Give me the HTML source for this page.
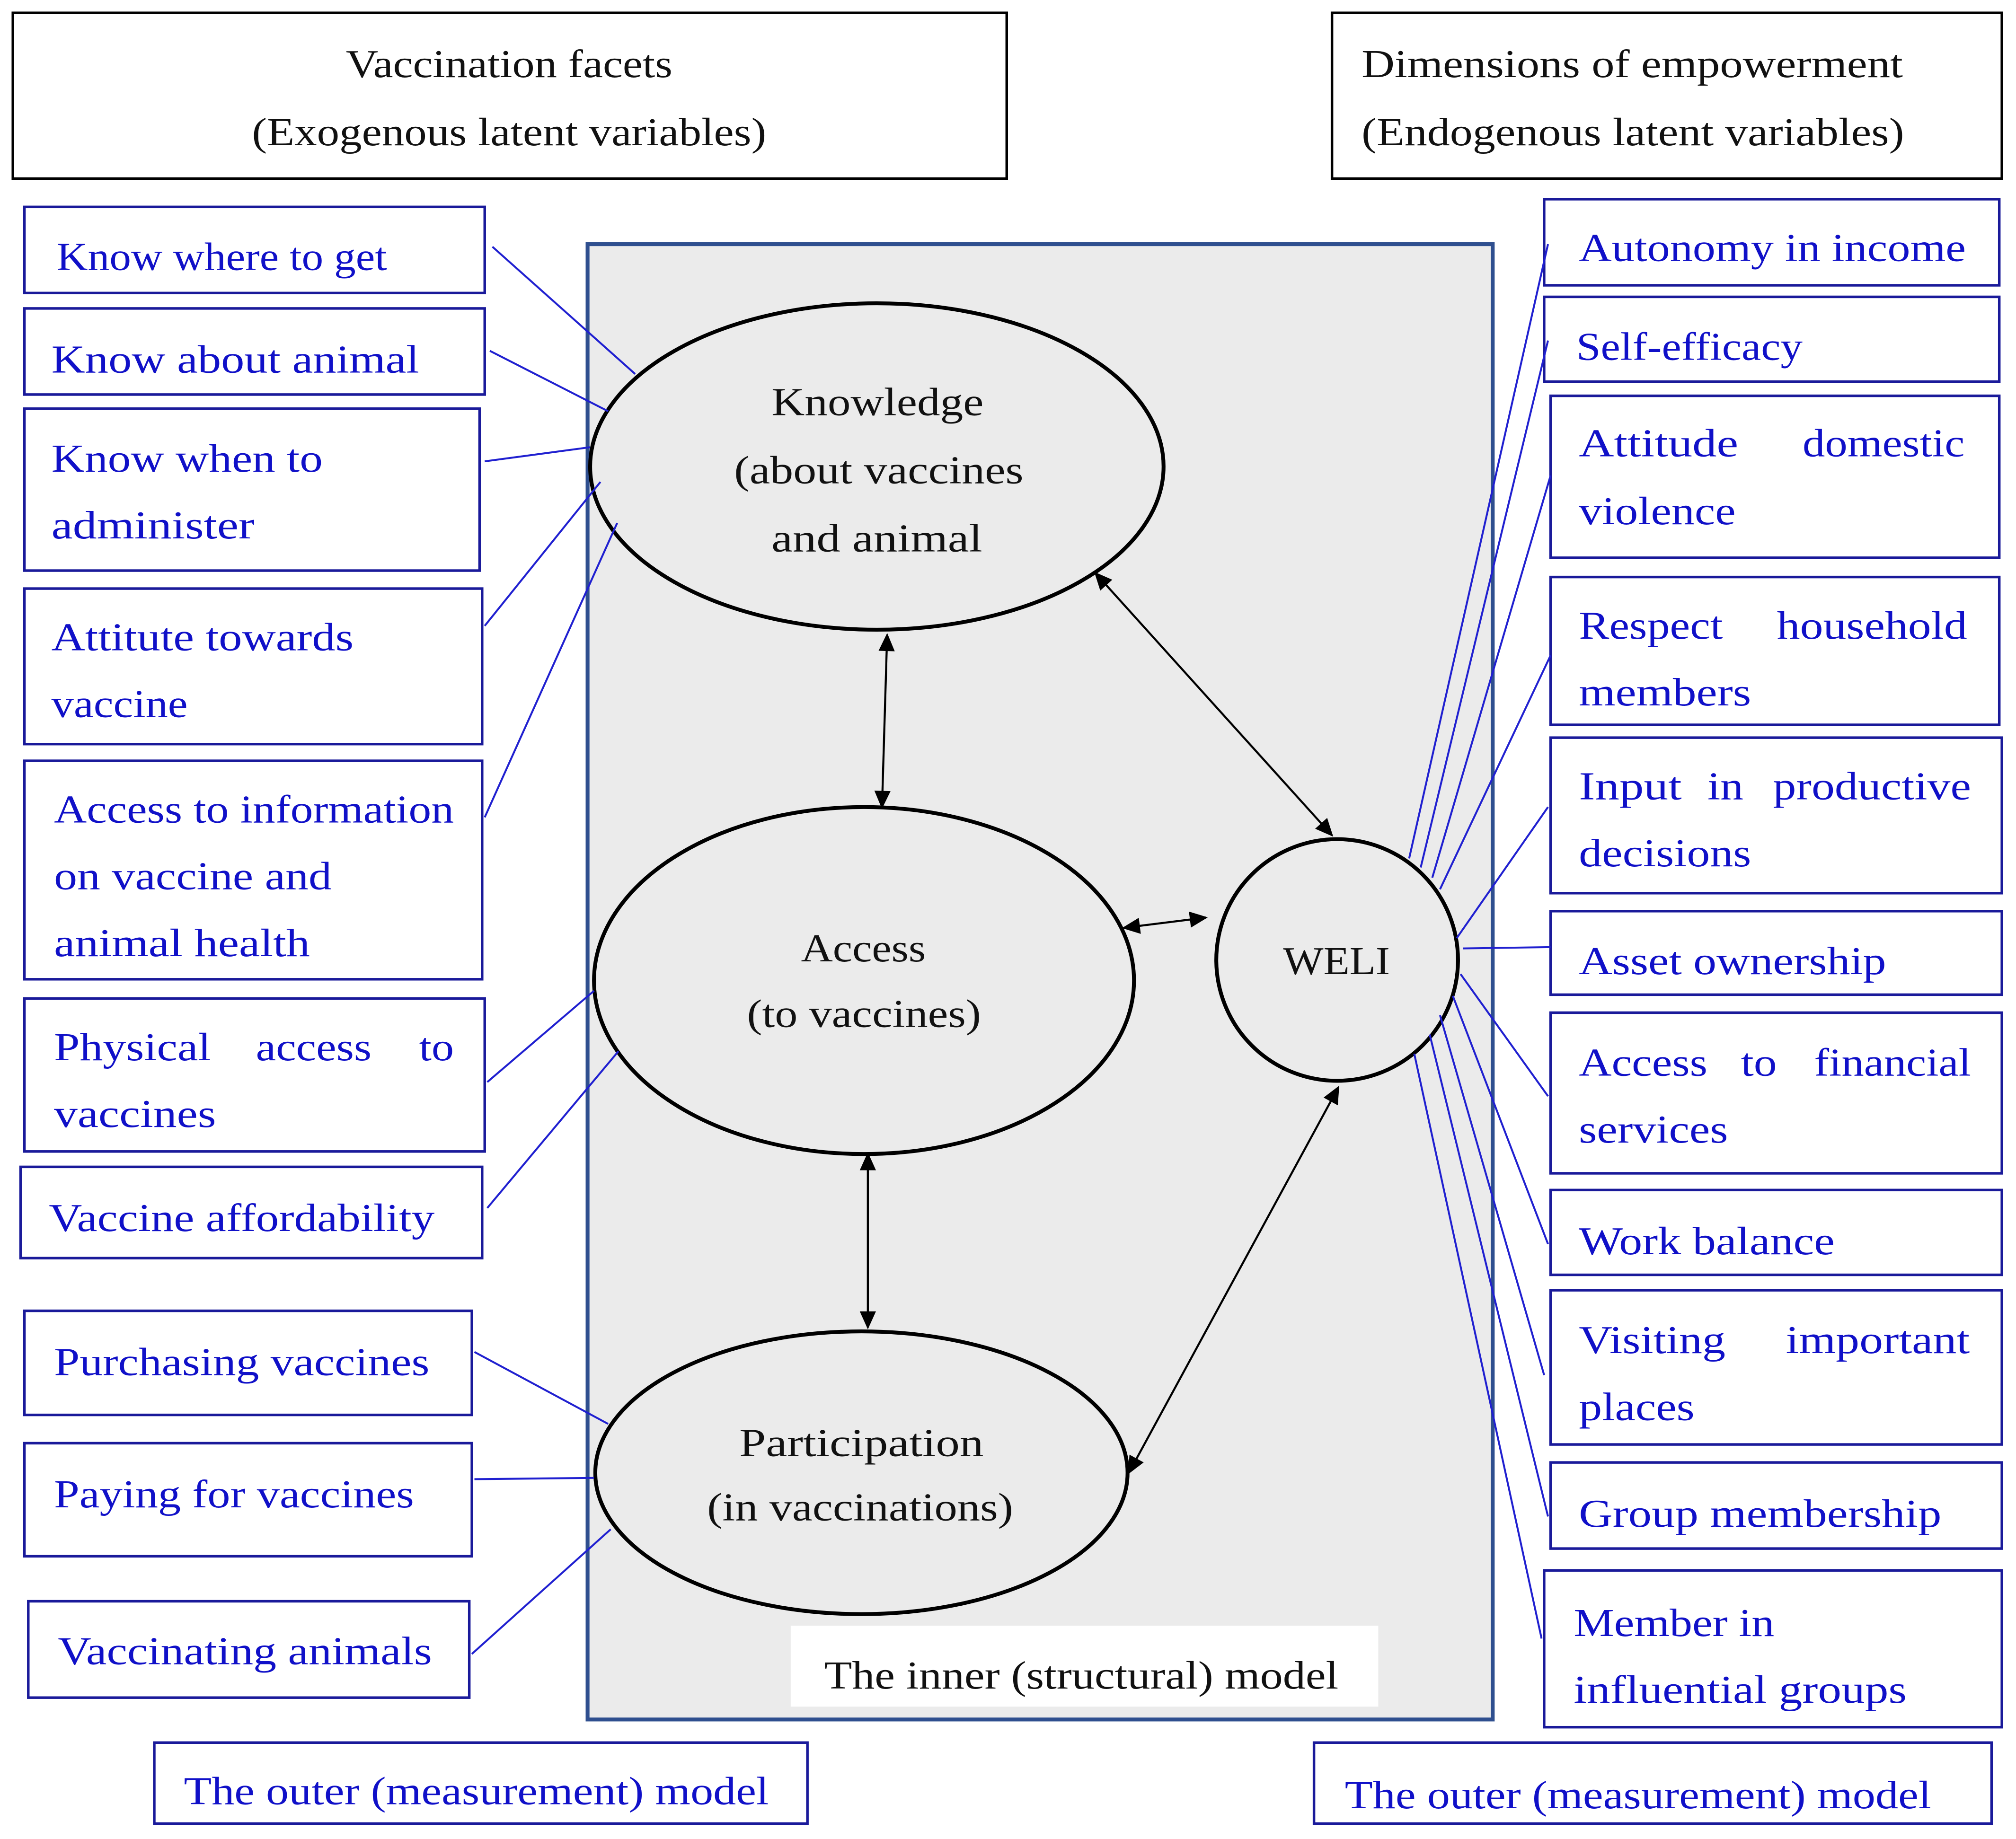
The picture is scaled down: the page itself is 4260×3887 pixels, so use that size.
<!DOCTYPE html>
<html><head><meta charset="utf-8"><style>
html,body{margin:0;padding:0;background:#fff;}
svg{display:block;}
text{font-family:"Liberation Serif",serif;font-size:31px;}
.b{fill:#1010c8;}
.k{fill:#111;}
.bx{fill:#fff;stroke:#1a1a9a;stroke-width:2;}
.bl{stroke:#2020d0;stroke-width:1.5;fill:none;}
.ar{stroke:#000;stroke-width:1.6;fill:none;marker-start:url(#h);marker-end:url(#h);}
</style></head><body>
<svg width="4260" height="3887" viewBox="0 0 1568 1431" preserveAspectRatio="none" xmlns="http://www.w3.org/2000/svg">
<defs><marker id="h" viewBox="0 0 10 10" refX="9" refY="5" markerWidth="16" markerHeight="14" orient="auto-start-reverse" markerUnits="userSpaceOnUse"><path d="M0,0.5 L10,5 L0,9.5 z" fill="#000"/></marker></defs>
<rect x="10" y="10" width="773" height="129" fill="#fff" stroke="#000" stroke-width="2"/>
<text class="k" x="269" y="60" textLength="254" lengthAdjust="spacingAndGlyphs">Vaccination facets</text>
<text class="k" x="196" y="113" textLength="400" lengthAdjust="spacingAndGlyphs">(Exogenous latent variables)</text>
<rect x="1036" y="10" width="521" height="129" fill="#fff" stroke="#000" stroke-width="2"/>
<text class="k" x="1059" y="60" textLength="421" lengthAdjust="spacingAndGlyphs">Dimensions of empowerment</text>
<text class="k" x="1059" y="113" textLength="422" lengthAdjust="spacingAndGlyphs">(Endogenous latent variables)</text>

<rect x="457" y="190" width="704" height="1148" fill="#ebebeb" stroke="#2f4f8f" stroke-width="3"/>
<rect x="615" y="1265" width="457" height="63" fill="#fff"/>
<text class="k" x="641" y="1314" textLength="400" lengthAdjust="spacingAndGlyphs">The inner (structural) model</text>

<ellipse cx="682" cy="363" rx="223" ry="127" fill="#ebebeb" stroke="#000" stroke-width="3"/>
<ellipse cx="672" cy="763" rx="210" ry="135" fill="#ebebeb" stroke="#000" stroke-width="3"/>
<ellipse cx="670" cy="1146" rx="207" ry="110" fill="#ebebeb" stroke="#000" stroke-width="3"/>
<circle cx="1040" cy="747" r="94" fill="#ebebeb" stroke="#000" stroke-width="3"/>
<g class="k">
<text x="600" y="323" textLength="165" lengthAdjust="spacingAndGlyphs">Knowledge</text>
<text x="571" y="376" textLength="225" lengthAdjust="spacingAndGlyphs">(about vaccines</text>
<text x="600" y="429" textLength="164" lengthAdjust="spacingAndGlyphs">and animal</text>
<text x="623" y="748" textLength="97" lengthAdjust="spacingAndGlyphs">Access</text>
<text x="581" y="799" textLength="182" lengthAdjust="spacingAndGlyphs">(to vaccines)</text>
<text x="575" y="1133" textLength="190" lengthAdjust="spacingAndGlyphs">Participation</text>
<text x="550" y="1183" textLength="238" lengthAdjust="spacingAndGlyphs">(in vaccinations)</text>
<text x="998" y="758" textLength="83" lengthAdjust="spacingAndGlyphs">WELI</text>
</g>

<line class="ar" x1="690" y1="494" x2="686" y2="628"/>
<line class="ar" x1="852" y1="446" x2="1036" y2="650"/>
<line class="ar" x1="874" y1="722" x2="938" y2="714"/>
<line class="ar" x1="675" y1="898" x2="675" y2="1033"/>
<line class="ar" x1="1041" y1="846" x2="878" y2="1146"/>

<g>
<rect class="bx" x="19" y="161" width="358" height="67"/>
<rect class="bx" x="19" y="240" width="358" height="67"/>
<rect class="bx" x="19" y="318" width="354" height="126"/>
<rect class="bx" x="19" y="458" width="356" height="121"/>
<rect class="bx" x="19" y="592" width="356" height="170"/>
<rect class="bx" x="19" y="777" width="358" height="119"/>
<rect class="bx" x="16" y="908" width="359" height="71"/>
<rect class="bx" x="19" y="1020" width="348" height="81"/>
<rect class="bx" x="19" y="1123" width="348" height="88"/>
<rect class="bx" x="22" y="1246" width="343" height="75"/>
<rect class="bx" x="120" y="1356" width="508" height="63"/>
<rect class="bx" x="1022" y="1356" width="527" height="63"/>
<rect class="bx" x="1201" y="155" width="354" height="67"/>
<rect class="bx" x="1201" y="231" width="354" height="66"/>
<rect class="bx" x="1206" y="308" width="349" height="126"/>
<rect class="bx" x="1206" y="449" width="349" height="115"/>
<rect class="bx" x="1206" y="574" width="351" height="121"/>
<rect class="bx" x="1206" y="709" width="351" height="65"/>
<rect class="bx" x="1206" y="788" width="351" height="125"/>
<rect class="bx" x="1206" y="926" width="351" height="66"/>
<rect class="bx" x="1206" y="1004" width="351" height="120"/>
<rect class="bx" x="1206" y="1138" width="351" height="67"/>
<rect class="bx" x="1201" y="1222" width="356" height="122"/>
</g>
<g class="b">
<text x="44" y="210" textLength="257" lengthAdjust="spacingAndGlyphs">Know where to get</text>
<text x="40" y="290" textLength="286" lengthAdjust="spacingAndGlyphs">Know about animal</text>
<text x="40" y="367" textLength="211" lengthAdjust="spacingAndGlyphs">Know when to</text>
<text x="40" y="419" textLength="158" lengthAdjust="spacingAndGlyphs">administer</text>
<text x="40" y="506" textLength="235" lengthAdjust="spacingAndGlyphs">Attitute towards</text>
<text x="40" y="558" textLength="106" lengthAdjust="spacingAndGlyphs">vaccine</text>
<text x="42" y="640" textLength="311" lengthAdjust="spacingAndGlyphs">Access to information</text>
<text x="42" y="692" textLength="216" lengthAdjust="spacingAndGlyphs">on vaccine and</text>
<text x="42" y="744" textLength="199" lengthAdjust="spacingAndGlyphs">animal health</text>
<text x="42" y="825" textLength="122" lengthAdjust="spacingAndGlyphs">Physical</text>
<text x="199" y="825" textLength="90" lengthAdjust="spacingAndGlyphs">access</text>
<text x="326" y="825" textLength="27" lengthAdjust="spacingAndGlyphs">to</text>
<text x="42" y="877" textLength="126" lengthAdjust="spacingAndGlyphs">vaccines</text>
<text x="38" y="958" textLength="300" lengthAdjust="spacingAndGlyphs">Vaccine affordability</text>
<text x="42" y="1070" textLength="292" lengthAdjust="spacingAndGlyphs">Purchasing vaccines</text>
<text x="42" y="1173" textLength="280" lengthAdjust="spacingAndGlyphs">Paying for vaccines</text>
<text x="45" y="1295" textLength="291" lengthAdjust="spacingAndGlyphs">Vaccinating animals</text>
<text x="143" y="1404" textLength="455" lengthAdjust="spacingAndGlyphs">The outer (measurement) model</text>
<text x="1046" y="1407" textLength="456" lengthAdjust="spacingAndGlyphs">The outer (measurement) model</text>
<text x="1228" y="203" textLength="301" lengthAdjust="spacingAndGlyphs">Autonomy in income</text>
<text x="1226" y="280" textLength="176" lengthAdjust="spacingAndGlyphs">Self-efficacy</text>
<text x="1228" y="355" textLength="124" lengthAdjust="spacingAndGlyphs">Attitude</text>
<text x="1402" y="355" textLength="126" lengthAdjust="spacingAndGlyphs">domestic</text>
<text x="1228" y="408" textLength="122" lengthAdjust="spacingAndGlyphs">violence</text>
<text x="1228" y="497" textLength="112" lengthAdjust="spacingAndGlyphs">Respect</text>
<text x="1382" y="497" textLength="148" lengthAdjust="spacingAndGlyphs">household</text>
<text x="1228" y="549" textLength="134" lengthAdjust="spacingAndGlyphs">members</text>
<text x="1228" y="622" textLength="80" lengthAdjust="spacingAndGlyphs">Input</text>
<text x="1328" y="622" textLength="28" lengthAdjust="spacingAndGlyphs">in</text>
<text x="1379" y="622" textLength="154" lengthAdjust="spacingAndGlyphs">productive</text>
<text x="1228" y="674" textLength="134" lengthAdjust="spacingAndGlyphs">decisions</text>
<text x="1228" y="758" textLength="239" lengthAdjust="spacingAndGlyphs">Asset ownership</text>
<text x="1228" y="837" textLength="100" lengthAdjust="spacingAndGlyphs">Access</text>
<text x="1354" y="837" textLength="28" lengthAdjust="spacingAndGlyphs">to</text>
<text x="1411" y="837" textLength="122" lengthAdjust="spacingAndGlyphs">financial</text>
<text x="1228" y="889" textLength="116" lengthAdjust="spacingAndGlyphs">services</text>
<text x="1228" y="976" textLength="199" lengthAdjust="spacingAndGlyphs">Work balance</text>
<text x="1228" y="1053" textLength="114" lengthAdjust="spacingAndGlyphs">Visiting</text>
<text x="1389" y="1053" textLength="143" lengthAdjust="spacingAndGlyphs">important</text>
<text x="1228" y="1105" textLength="90" lengthAdjust="spacingAndGlyphs">places</text>
<text x="1228" y="1188" textLength="282" lengthAdjust="spacingAndGlyphs">Group membership</text>
<text x="1224" y="1273" textLength="156" lengthAdjust="spacingAndGlyphs">Member in</text>
<text x="1224" y="1325" textLength="259" lengthAdjust="spacingAndGlyphs">influential groups</text>
</g>

<g class="bl">
<line x1="383" y1="192" x2="494" y2="291"/>
<line x1="381" y1="273" x2="473" y2="320"/>
<line x1="377" y1="359" x2="459" y2="348"/>
<line x1="377" y1="487" x2="467" y2="375"/>
<line x1="377" y1="636" x2="480" y2="407"/>
<line x1="379" y1="842" x2="462" y2="771"/>
<line x1="379" y1="940" x2="481" y2="818"/>
<line x1="369" y1="1052" x2="473" y2="1108"/>
<line x1="369" y1="1151" x2="462" y2="1150"/>
<line x1="367" y1="1287" x2="475" y2="1190"/>
<line x1="1096" y1="668" x2="1204" y2="190"/>
<line x1="1105" y1="675" x2="1204" y2="265"/>
<line x1="1114" y1="683" x2="1206" y2="370"/>
<line x1="1120" y1="692" x2="1206" y2="510"/>
<line x1="1133" y1="730" x2="1204" y2="628"/>
<line x1="1138" y1="738" x2="1206" y2="737"/>
<line x1="1136" y1="758" x2="1204" y2="853"/>
<line x1="1130" y1="775" x2="1204" y2="968"/>
<line x1="1120" y1="790" x2="1201" y2="1070"/>
<line x1="1112" y1="805" x2="1204" y2="1180"/>
<line x1="1100" y1="820" x2="1199" y2="1275"/>
</g>
</svg>
</body></html>
